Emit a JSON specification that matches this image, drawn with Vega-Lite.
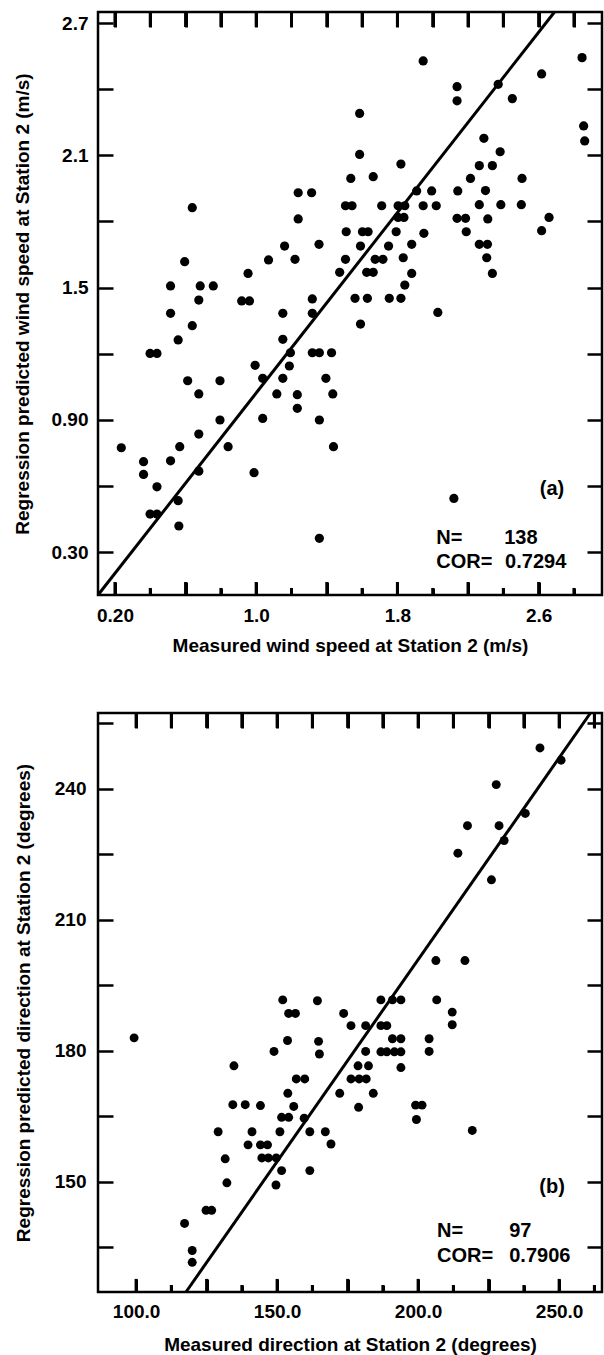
{
  "$schema": "https://vega.github.io/schema/vega-lite/v6.json",
  "padding": {"left": 11, "top": 4, "right": 0, "bottom": 0},
  "spacing": 48,
  "config": {
    "font": "Liberation Sans",
    "view": {"stroke": "black", "strokeWidth": 2.5},
    "axis": {
      "labelFont": "Liberation Sans", "labelFontSize": 19, "labelFontWeight": "bold", "labelColor": "black",
      "titleFont": "Liberation Sans", "titleFontSize": 19, "titleFontWeight": "bold", "titleColor": "black",
      "tickColor": "black", "tickWidth": 2.5, "grid": false, "domain": false, "minExtent": 0
    }
  },
  "datasets": {
    "speed": [
      {"measured":1.946,"predicted":2.528},{"measured":2.846,"predicted":2.543},{"measured":2.617,"predicted":2.469},
      {"measured":2.138,"predicted":2.411},{"measured":2.138,"predicted":2.347},{"measured":2.371,"predicted":2.422},
      {"measured":2.451,"predicted":2.357},{"measured":1.586,"predicted":2.290},{"measured":2.855,"predicted":2.233},
      {"measured":2.861,"predicted":2.165},{"measured":2.290,"predicted":2.177},{"measured":1.586,"predicted":2.104},
      {"measured":2.382,"predicted":2.116},{"measured":1.820,"predicted":2.060},{"measured":2.264,"predicted":2.053},
      {"measured":2.338,"predicted":2.053},{"measured":1.536,"predicted":1.995},{"measured":1.663,"predicted":2.003},
      {"measured":2.214,"predicted":1.995},{"measured":2.506,"predicted":1.995},{"measured":1.238,"predicted":1.930},
      {"measured":1.314,"predicted":1.930},{"measured":1.909,"predicted":1.938},{"measured":1.994,"predicted":1.938},
      {"measured":2.142,"predicted":1.938},{"measured":2.299,"predicted":1.940},{"measured":0.638,"predicted":1.862},
      {"measured":1.506,"predicted":1.871},{"measured":1.543,"predicted":1.871},{"measured":1.711,"predicted":1.871},
      {"measured":1.804,"predicted":1.871},{"measured":1.842,"predicted":1.871},{"measured":1.946,"predicted":1.871},
      {"measured":2.020,"predicted":1.871},{"measured":2.264,"predicted":1.876},{"measured":2.386,"predicted":1.876},
      {"measured":2.502,"predicted":1.876},{"measured":1.238,"predicted":1.811},{"measured":1.804,"predicted":1.818},
      {"measured":1.837,"predicted":1.818},{"measured":2.138,"predicted":1.814},{"measured":2.186,"predicted":1.814},
      {"measured":2.312,"predicted":1.811},{"measured":2.659,"predicted":1.818},{"measured":1.510,"predicted":1.753},
      {"measured":1.602,"predicted":1.753},{"measured":1.634,"predicted":1.753},{"measured":1.793,"predicted":1.753},
      {"measured":1.950,"predicted":1.746},{"measured":2.190,"predicted":1.753},{"measured":2.617,"predicted":1.758},
      {"measured":1.161,"predicted":1.688},{"measured":1.356,"predicted":1.696},{"measured":1.591,"predicted":1.688},
      {"measured":1.750,"predicted":1.688},{"measured":1.881,"predicted":1.696},{"measured":2.264,"predicted":1.696},
      {"measured":2.310,"predicted":1.696},{"measured":0.595,"predicted":1.617},{"measured":1.070,"predicted":1.625},
      {"measured":1.220,"predicted":1.628},{"measured":1.506,"predicted":1.628},{"measured":1.674,"predicted":1.628},
      {"measured":1.718,"predicted":1.628},{"measured":1.833,"predicted":1.635},{"measured":2.306,"predicted":1.635},
      {"measured":0.954,"predicted":1.564},{"measured":1.473,"predicted":1.569},{"measured":1.626,"predicted":1.569},
      {"measured":1.663,"predicted":1.569},{"measured":1.881,"predicted":1.564},{"measured":2.338,"predicted":1.564},
      {"measured":0.515,"predicted":1.507},{"measured":0.683,"predicted":1.507},{"measured":0.757,"predicted":1.507},
      {"measured":1.842,"predicted":1.511},{"measured":0.675,"predicted":1.443},{"measured":0.918,"predicted":1.439},
      {"measured":0.962,"predicted":1.439},{"measured":1.318,"predicted":1.448},{"measured":1.560,"predicted":1.451},
      {"measured":1.630,"predicted":1.451},{"measured":1.754,"predicted":1.451},{"measured":1.820,"predicted":1.451},
      {"measured":0.515,"predicted":1.383},{"measured":1.151,"predicted":1.383},{"measured":1.318,"predicted":1.383},
      {"measured":2.029,"predicted":1.387},{"measured":0.638,"predicted":1.327},{"measured":1.591,"predicted":1.334},
      {"measured":0.558,"predicted":1.262},{"measured":1.151,"predicted":1.265},{"measured":0.399,"predicted":1.201},
      {"measured":0.438,"predicted":1.201},{"measured":1.194,"predicted":1.204},{"measured":1.318,"predicted":1.204},
      {"measured":1.358,"predicted":1.204},{"measured":1.427,"predicted":1.204},{"measured":0.994,"predicted":1.147},
      {"measured":1.188,"predicted":1.144},{"measured":0.612,"predicted":1.077},{"measured":0.795,"predicted":1.077},
      {"measured":1.037,"predicted":1.088},{"measured":1.151,"predicted":1.088},{"measured":1.395,"predicted":1.088},
      {"measured":0.675,"predicted":1.017},{"measured":1.117,"predicted":1.017},{"measured":1.233,"predicted":1.014},
      {"measured":1.434,"predicted":1.017},{"measured":1.233,"predicted":0.952},{"measured":0.795,"predicted":0.899},
      {"measured":1.037,"predicted":0.906},{"measured":1.358,"predicted":0.899},{"measured":0.675,"predicted":0.835},
      {"measured":0.236,"predicted":0.773},{"measured":0.567,"predicted":0.778},{"measured":0.841,"predicted":0.778},
      {"measured":1.438,"predicted":0.778},{"measured":0.362,"predicted":0.710},{"measured":0.515,"predicted":0.714},
      {"measured":0.362,"predicted":0.652},{"measured":0.675,"predicted":0.667},{"measured":0.988,"predicted":0.660},
      {"measured":0.438,"predicted":0.596},{"measured":0.558,"predicted":0.533},{"measured":2.120,"predicted":0.543},
      {"measured":0.399,"predicted":0.472},{"measured":0.438,"predicted":0.472},{"measured":0.562,"predicted":0.418},
      {"measured":1.358,"predicted":0.362}
    ],
    "direction": [
      {"measured":243.2,"predicted":249.4},{"measured":250.7,"predicted":246.6},{"measured":227.7,"predicted":241.0},
      {"measured":238.0,"predicted":234.4},{"measured":217.5,"predicted":231.6},{"measured":228.7,"predicted":231.6},
      {"measured":230.5,"predicted":228.2},{"measured":214.1,"predicted":225.3},{"measured":226.0,"predicted":219.2},
      {"measured":206.3,"predicted":200.7},{"measured":216.6,"predicted":200.7},{"measured":152.0,"predicted":191.7},
      {"measured":164.3,"predicted":191.5},{"measured":186.8,"predicted":191.7},{"measured":190.9,"predicted":191.7},
      {"measured":193.9,"predicted":191.7},{"measured":206.6,"predicted":191.7},{"measured":173.6,"predicted":188.6},
      {"measured":154.1,"predicted":188.6},{"measured":156.5,"predicted":188.6},{"measured":212.1,"predicted":188.9},
      {"measured":99.3,"predicted":183.0},{"measured":153.7,"predicted":182.4},{"measured":164.7,"predicted":182.2},
      {"measured":176.2,"predicted":185.8},{"measured":181.4,"predicted":185.8},{"measured":186.8,"predicted":185.8},
      {"measured":188.9,"predicted":185.8},{"measured":190.9,"predicted":182.8},{"measured":193.9,"predicted":182.8},
      {"measured":203.9,"predicted":182.8},{"measured":212.1,"predicted":186.0},{"measured":148.9,"predicted":179.9},
      {"measured":165.0,"predicted":179.3},{"measured":181.4,"predicted":179.9},{"measured":186.8,"predicted":179.8},
      {"measured":188.9,"predicted":179.8},{"measured":191.6,"predicted":179.8},{"measured":193.9,"predicted":179.8},
      {"measured":203.9,"predicted":179.9},{"measured":134.7,"predicted":176.6},{"measured":178.7,"predicted":176.6},
      {"measured":182.4,"predicted":176.6},{"measured":193.9,"predicted":176.2},{"measured":156.8,"predicted":173.6},
      {"measured":159.8,"predicted":173.6},{"measured":176.2,"predicted":173.6},{"measured":179.1,"predicted":173.6},
      {"measured":181.6,"predicted":173.6},{"measured":153.8,"predicted":170.3},{"measured":172.2,"predicted":170.3},
      {"measured":184.1,"predicted":170.3},{"measured":134.3,"predicted":167.7},{"measured":138.7,"predicted":167.7},
      {"measured":144.1,"predicted":167.5},{"measured":155.9,"predicted":167.3},{"measured":178.9,"predicted":167.1},
      {"measured":199.1,"predicted":167.6},{"measured":201.4,"predicted":167.6},{"measured":151.6,"predicted":164.8},
      {"measured":154.1,"predicted":164.8},{"measured":159.6,"predicted":164.6},{"measured":199.4,"predicted":164.3},
      {"measured":129.1,"predicted":161.5},{"measured":141.1,"predicted":161.5},{"measured":151.0,"predicted":161.5},
      {"measured":161.6,"predicted":161.5},{"measured":167.1,"predicted":161.5},{"measured":219.2,"predicted":161.8},
      {"measured":139.7,"predicted":158.5},{"measured":144.1,"predicted":158.5},{"measured":146.6,"predicted":158.5},
      {"measured":169.1,"predicted":158.7},{"measured":131.6,"predicted":155.3},{"measured":144.6,"predicted":155.5},
      {"measured":146.9,"predicted":155.5},{"measured":149.7,"predicted":155.5},{"measured":151.6,"predicted":152.6},
      {"measured":161.6,"predicted":152.6},{"measured":132.2,"predicted":149.8},{"measured":149.6,"predicted":149.3},
      {"measured":124.8,"predicted":143.5},{"measured":126.8,"predicted":143.5},{"measured":117.2,"predicted":140.5},
      {"measured":119.9,"predicted":134.3},{"measured":119.9,"predicted":131.6}
    ],
    "fitA": [{"measured":0.104,"predicted":0.105},{"measured":2.69,"predicted":2.75}],
    "fitB": [{"measured":117.7,"predicted":124.8},{"measured":261.1,"predicted":257.4}],
    "notesA": [
      {"measured":2.02,"predicted":0.364,"label":"N="},
      {"measured":2.405,"predicted":0.364,"label":"138"},
      {"measured":2.02,"predicted":0.255,"label":"COR="},
      {"measured":2.41,"predicted":0.255,"label":"0.7294"}
    ],
    "tagA": [{"measured":2.676,"predicted":0.586,"label":"(a)"}],
    "notesB": [
      {"measured":206.7,"predicted":138.8,"label":"N="},
      {"measured":232.3,"predicted":138.8,"label":"97"},
      {"measured":206.7,"predicted":133.1,"label":"COR="},
      {"measured":232.3,"predicted":133.1,"label":"0.7906"}
    ],
    "tagB": [{"measured":247.5,"predicted":148.9,"label":"(b)"}],
    "ticksAmajor": [{"measured":0.2},{"measured":0.6},{"measured":1.0},{"measured":1.4},{"measured":1.8},{"measured":2.2},{"measured":2.6}],
    "ticksAminor": [{"measured":0.4},{"measured":0.8},{"measured":1.2},{"measured":1.6},{"measured":2.0},{"measured":2.4},{"measured":2.8}],
    "ticksAtop": [{"measured":0.2},{"measured":0.4},{"measured":0.6},{"measured":0.8},{"measured":1.0},{"measured":1.2},{"measured":1.4},{"measured":1.6},{"measured":1.8},{"measured":2.0},{"measured":2.2},{"measured":2.4},{"measured":2.6},{"measured":2.8}],
    "ticksBmajor": [{"measured":100},{"measured":125},{"measured":150},{"measured":175},{"measured":200},{"measured":225},{"measured":250}],
    "ticksBminor": [{"measured":112.5},{"measured":137.5},{"measured":162.5},{"measured":187.5},{"measured":212.5},{"measured":237.5},{"measured":262.5}],
    "ticksBtop": [{"measured":100},{"measured":112.5},{"measured":125},{"measured":137.5},{"measured":150},{"measured":162.5},{"measured":175},{"measured":187.5},{"measured":200},{"measured":212.5},{"measured":225},{"measured":237.5},{"measured":250},{"measured":262.5}]
  },
  "vconcat": [
    {
      "width": 504,
      "height": 583,
      "resolve": {"axis": {"x": "independent", "y": "independent"}},
      "layer": [
        {
          "data": {"name": "speed"},
          "mark": {"type": "point", "filled": true, "size": 85, "color": "black", "opacity": 1},
          "encoding": {
            "x": {"field": "measured", "type": "quantitative",
              "scale": {"domain": [0.104, 2.959], "nice": false, "zero": false},
              "axis": {"orient": "bottom", "values": [0.2, 1.0, 1.8, 2.6], "ticks": false, "labelPadding": 11,
                "labelExpr": "datum.value < 1 ? format(datum.value, '.2f') : format(datum.value, '.1f')",
                "title": "Measured wind speed at Station 2 (m/s)", "titleY": 50, "titleBaseline": "middle"}},
            "y": {"field": "predicted", "type": "quantitative",
              "scale": {"domain": [0.105, 2.75], "nice": false, "zero": false},
              "axis": {"orient": "left", "values": [0.3, 0.9, 1.5, 2.1, 2.7], "ticks": false, "labelPadding": 10,
                "labelExpr": "datum.value < 1 ? format(datum.value, '.2f') : format(datum.value, '.1f')",
                "title": "Regression predicted wind speed at Station 2 (m/s)", "titleX": -76, "titleBaseline": "middle"}}
          }
        },
        {
          "data": {"name": "fitA"},
          "mark": {"type": "line", "color": "black", "strokeWidth": 3},
          "encoding": {
            "x": {"field": "measured", "type": "quantitative",
              "scale": {"domain": [0.104, 2.959], "nice": false, "zero": false},
              "axis": {"orient": "bottom", "values": [0.2, 0.6, 1.0, 1.4, 1.8, 2.2, 2.6], "labels": false, "ticks": true, "tickSize": 13, "offset": -13, "tickWidth": 3, "title": null}},
            "y": {"field": "predicted", "type": "quantitative",
              "scale": {"domain": [0.105, 2.75], "nice": false, "zero": false},
              "axis": {"orient": "left", "values": [0.3, 0.6, 0.9, 1.2, 1.5, 1.8, 2.1, 2.4, 2.7], "labels": false, "tickSize": -15, "title": null}}
          }
        },
        {
          "data": {"name": "notesA"},
          "mark": {"type": "text", "align": "left", "baseline": "middle", "font": "Liberation Sans", "fontSize": 20, "fontWeight": "bold", "color": "black"},
          "encoding": {
            "x": {"field": "measured", "type": "quantitative",
              "scale": {"domain": [0.104, 2.959], "nice": false, "zero": false},
              "axis": {"orient": "bottom", "values": [0.4, 0.8, 1.2, 1.6, 2.0, 2.4, 2.8], "labels": false, "ticks": true, "tickSize": 7, "offset": -7, "tickWidth": 3, "title": null}},
            "y": {"field": "predicted", "type": "quantitative",
              "scale": {"domain": [0.105, 2.75], "nice": false, "zero": false},
              "axis": {"orient": "right", "values": [0.3, 0.6, 0.9, 1.2, 1.5, 1.8, 2.1, 2.4, 2.7], "labels": false, "tickSize": -15, "title": null}},
            "text": {"field": "label"}
          }
        },
        {
          "data": {"name": "tagA"},
          "mark": {"type": "text", "align": "center", "baseline": "middle", "font": "Liberation Sans", "fontSize": 20, "fontWeight": "bold", "color": "black"},
          "encoding": {
            "x": {"field": "measured", "type": "quantitative",
              "scale": {"domain": [0.104, 2.959], "nice": false, "zero": false},
              "axis": {"orient": "top", "values": [0.2, 0.4, 0.6, 0.8, 1.0, 1.2, 1.4, 1.6, 1.8, 2.0, 2.2, 2.4, 2.6, 2.8], "labels": false, "ticks": true, "tickSize": 15, "offset": -15, "tickWidth": 3, "title": null}},
            "y": {"field": "predicted", "type": "quantitative",
              "scale": {"domain": [0.105, 2.75], "nice": false, "zero": false}, "axis": null},
            "text": {"field": "label"}
          }
        },
        {
          "data": {"name": "ticksAmajor"},
          "mark": {"type": "rule", "color": "black", "strokeWidth": 3},
          "encoding": {
            "x": {"field": "measured", "type": "quantitative", "scale": {"domain": [0.104, 2.959], "nice": false, "zero": false}, "axis": null},
            "y": {"datum": 0.105, "type": "quantitative", "scale": {"domain": [0.105, 2.75], "nice": false, "zero": false}, "axis": null},
            "y2": {"datum": 0.164}
          }
        },
        {
          "data": {"name": "ticksAminor"},
          "mark": {"type": "rule", "color": "black", "strokeWidth": 3},
          "encoding": {
            "x": {"field": "measured", "type": "quantitative", "scale": {"domain": [0.104, 2.959], "nice": false, "zero": false}, "axis": null},
            "y": {"datum": 0.105, "type": "quantitative", "scale": {"domain": [0.105, 2.75], "nice": false, "zero": false}, "axis": null},
            "y2": {"datum": 0.137}
          }
        },
        {
          "data": {"name": "ticksAtop"},
          "mark": {"type": "rule", "color": "black", "strokeWidth": 3},
          "encoding": {
            "x": {"field": "measured", "type": "quantitative", "scale": {"domain": [0.104, 2.959], "nice": false, "zero": false}, "axis": null},
            "y": {"datum": 2.75, "type": "quantitative", "scale": {"domain": [0.105, 2.75], "nice": false, "zero": false}, "axis": null},
            "y2": {"datum": 2.682}
          }
        }
      ]
    },
    {
      "width": 504,
      "height": 579,
      "resolve": {"axis": {"x": "independent", "y": "independent"}},
      "layer": [
        {
          "data": {"name": "direction"},
          "mark": {"type": "point", "filled": true, "size": 80, "color": "black", "opacity": 1},
          "encoding": {
            "x": {"field": "measured", "type": "quantitative",
              "scale": {"domain": [86.5, 265.2], "nice": false, "zero": false},
              "axis": {"orient": "bottom", "values": [100, 150, 200, 250], "ticks": false, "labelPadding": 10, "format": ".1f",
                "title": "Measured direction at Station 2 (degrees)", "titleY": 52, "titleBaseline": "middle"}},
            "y": {"field": "predicted", "type": "quantitative",
              "scale": {"domain": [124.8, 257.4], "nice": false, "zero": false},
              "axis": {"orient": "left", "values": [150, 180, 210, 240], "ticks": false, "labelPadding": 12, "format": "d",
                "title": "Regression predicted direction at Station 2 (degrees)", "titleX": -75, "titleBaseline": "middle"}}
          }
        },
        {
          "data": {"name": "fitB"},
          "mark": {"type": "line", "color": "black", "strokeWidth": 3},
          "encoding": {
            "x": {"field": "measured", "type": "quantitative",
              "scale": {"domain": [86.5, 265.2], "nice": false, "zero": false},
              "axis": {"orient": "bottom", "values": [100, 125, 150, 175, 200, 225, 250], "labels": false, "ticks": true, "tickSize": 13, "offset": -13, "tickWidth": 3, "title": null}},
            "y": {"field": "predicted", "type": "quantitative",
              "scale": {"domain": [124.8, 257.4], "nice": false, "zero": false},
              "axis": {"orient": "left", "values": [135, 150, 165, 180, 195, 210, 225, 240, 255], "labels": false, "tickSize": -15, "title": null}}
          }
        },
        {
          "data": {"name": "notesB"},
          "mark": {"type": "text", "align": "left", "baseline": "middle", "font": "Liberation Sans", "fontSize": 20, "fontWeight": "bold", "color": "black"},
          "encoding": {
            "x": {"field": "measured", "type": "quantitative",
              "scale": {"domain": [86.5, 265.2], "nice": false, "zero": false},
              "axis": {"orient": "bottom", "values": [112.5, 137.5, 162.5, 187.5, 212.5, 237.5, 262.5], "labels": false, "ticks": true, "tickSize": 7, "offset": -7, "tickWidth": 3, "title": null}},
            "y": {"field": "predicted", "type": "quantitative",
              "scale": {"domain": [124.8, 257.4], "nice": false, "zero": false},
              "axis": {"orient": "right", "values": [135, 150, 165, 180, 195, 210, 225, 240, 255], "labels": false, "tickSize": -15, "title": null}},
            "text": {"field": "label"}
          }
        },
        {
          "data": {"name": "tagB"},
          "mark": {"type": "text", "align": "center", "baseline": "middle", "font": "Liberation Sans", "fontSize": 20, "fontWeight": "bold", "color": "black"},
          "encoding": {
            "x": {"field": "measured", "type": "quantitative",
              "scale": {"domain": [86.5, 265.2], "nice": false, "zero": false},
              "axis": {"orient": "top", "values": [100, 112.5, 125, 137.5, 150, 162.5, 175, 187.5, 200, 212.5, 225, 237.5, 250, 262.5], "labels": false, "ticks": true, "tickSize": 15, "offset": -15, "tickWidth": 3, "title": null}},
            "y": {"field": "predicted", "type": "quantitative",
              "scale": {"domain": [124.8, 257.4], "nice": false, "zero": false}, "axis": null},
            "text": {"field": "label"}
          }
        },
        {
          "data": {"name": "ticksBmajor"},
          "mark": {"type": "rule", "color": "black", "strokeWidth": 3},
          "encoding": {
            "x": {"field": "measured", "type": "quantitative", "scale": {"domain": [86.5, 265.2], "nice": false, "zero": false}, "axis": null},
            "y": {"datum": 124.8, "type": "quantitative", "scale": {"domain": [124.8, 257.4], "nice": false, "zero": false}, "axis": null},
            "y2": {"datum": 127.8}
          }
        },
        {
          "data": {"name": "ticksBminor"},
          "mark": {"type": "rule", "color": "black", "strokeWidth": 3},
          "encoding": {
            "x": {"field": "measured", "type": "quantitative", "scale": {"domain": [86.5, 265.2], "nice": false, "zero": false}, "axis": null},
            "y": {"datum": 124.8, "type": "quantitative", "scale": {"domain": [124.8, 257.4], "nice": false, "zero": false}, "axis": null},
            "y2": {"datum": 126.4}
          }
        },
        {
          "data": {"name": "ticksBtop"},
          "mark": {"type": "rule", "color": "black", "strokeWidth": 3},
          "encoding": {
            "x": {"field": "measured", "type": "quantitative", "scale": {"domain": [86.5, 265.2], "nice": false, "zero": false}, "axis": null},
            "y": {"datum": 257.4, "type": "quantitative", "scale": {"domain": [124.8, 257.4], "nice": false, "zero": false}, "axis": null},
            "y2": {"datum": 254.0}
          }
        }
      ]
    }
  ]
}
